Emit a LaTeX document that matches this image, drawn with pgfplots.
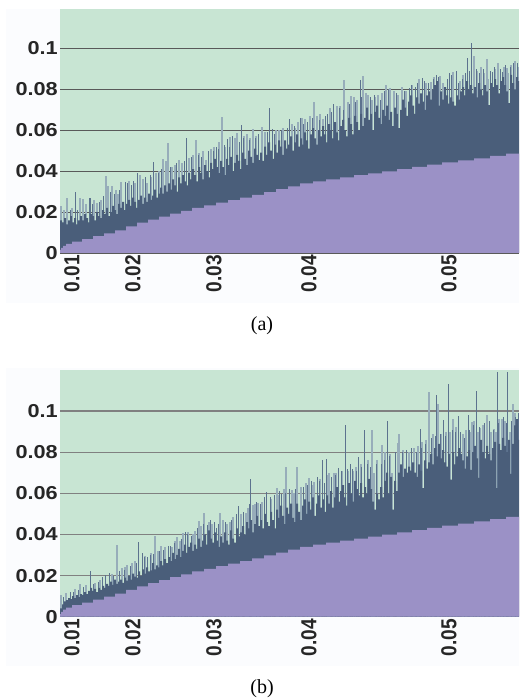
\documentclass[border=0pt]{standalone}
\usepackage{pgfplots}
\pgfplotsset{compat=1.18}
\usepackage{fontspec}
\setmainfont{Liberation Sans}
\newfontfamily\capfont{Liberation Serif}
\newfontfamily\ylabfont[FakeStretch=1.16]{Liberation Sans Bold}
\newfontfamily\xlabfont[FakeStretch=0.88]{Liberation Sans Bold}
\definecolor{bggreen}{HTML}{C8E5D3}
\definecolor{bodyc}{HTML}{4A5E7A}
\definecolor{purp}{HTML}{9B91C6}
\definecolor{palec}{HTML}{97ADBA}
\definecolor{darkc}{HTML}{5C728E}
\definecolor{pagebg}{HTML}{FBFCFE}
\definecolor{txt}{HTML}{262626}
\pgfplotsset{
  panel/.style={
    anchor=origin, x=1pt, scale only axis, width=459pt, xmin=60, xmax=519, ymin=0,
    axis line style={draw=none}, tick style={draw=none},
    axis background/.style={fill=bggreen},
    ymajorgrids, xmajorgrids=false,
    xtick={70,131,212,307,447}, xticklabels={0.01,0.02,0.03,0.04,0.05},
    ytick={0,0.02,0.04,0.06,0.08,0.1}, yticklabels={0,0.02,0.04,0.06,0.08,0.1},
    xticklabel style={rotate=90, anchor=east, font=\xlabfont\fontsize{21.7}{22}\selectfont, text=txt, yshift=-2pt, inner sep=2pt},
    yticklabel style={anchor=east, font=\ylabfont\fontsize{18.7}{22}\selectfont, text=txt, inner sep=2pt},
    scaled y ticks=false,
    clip=true,
  },
  pale/.style={ycomb, no markers, draw=palec, line width=1.6pt},
  dark/.style={ycomb, no markers, draw=darkc, line width=1pt},
  body/.style={const plot, no markers, draw=none, fill=bodyc},
  purple/.style={const plot, no markers, draw=none, fill=purp},
}
\pgfplotstableread{
x y
60 .0015
61 .0025
63 .0035
66 .0045
72 .0055
82 .0068
93 .0082
104 .0096
115 .0111
126 .0130
137 .0148
148 .0163
159 .0178
170 .0192
181 .0206
192 .0220
204 .0233
216 .0246
228 .0258
240 .0270
252 .0284
264 .0298
276 .0312
288 .0326
300 .0340
313 .0350
326 .0360
340 .0370
354 .0380
368 .0389
382 .0399
397 .0410
412 .0421
427 .0432
442 .0443
458 .0453
474 .0463
490 .0474
506 .0485
520 .0489
}\stepsA
\pgfplotstableread{
x y
60 .0012
61 .0024
63 .0034
66 .0044
72 .0056
82 .0069
93 .0083
104 .0097
115 .0112
126 .0130
137 .0148
148 .0163
159 .0178
170 .0192
181 .0206
192 .0220
204 .0233
216 .0246
228 .0258
240 .0270
252 .0284
264 .0298
276 .0312
288 .0326
300 .0340
313 .0350
326 .0360
340 .0370
354 .0380
368 .0389
382 .0399
397 .0410
412 .0421
427 .0432
442 .0443
458 .0453
474 .0463
490 .0474
506 .0485
520 .0489
}\stepsB
\begin{document}
\begin{tikzpicture}[x=1pt,y=1pt]
\useasboundingbox (0,0) rectangle (519,700);
\fill[white] (0,0) rectangle (519,700);
\fill[pagebg] (6,397) rectangle (519,691);
\fill[pagebg] (6,34) rectangle (519,332);
\begin{axis}[panel, at={(60pt,447pt)}, height=243.5pt, ymax=0.119,
  grid style={draw=black!65, line width=0.9pt}]
\addplot[pale] coordinates {(61,.023)(67,.0267)(80,.0267)(83,.0265)(97,.0245)(106,.0378)(108,.0327)(112,.0327)(121,.0348)(129,.0352)(140,.0383)(163,.0457)(166,.045)(168,.0537)(172,.042)(179,.0453)(189,.0462)(196,.0553)(206,.0453)(211,.051)
(222,.0663)(230,.0565)(237,.0585)(247,.058)(253,.0604)(262,.0617)(276,.060)(295,.061)(305,.0653)(310,.067)(314,.0736)(323,.0653)(337,.0718)(344,.0845)(351,.0768)(354,.076)(357,.0747)(363,.0865)(368,.0772)
(372,.075)(378,.077)(386,.082)(390,.0805)(398,.077)(419,.0848)(431,.0837)(440,.0866)(453,.0886)(474,.0962)(481,.0907)(487,.0946)(488,.085)(498,.093)(507,.0902)(508,.088)(515,.094)
(64,.021)(72,.022)(86,.024)(94,.026)(101,.026)(116,.031)(118,.029)(135,.034)(143,.036)(147,.034)(151,.037)(156,.039)(159,.040)(175,.043)(182,.044)(193,.048)(199,.049)(203,.050)(214,.052)(219,.054)(225,.052)(235,.056)(244,.057)(250,.056)(256,.057)(265,.059)(279,.060)(283,.061)(292,.063)(298,.064)(302,.066)(317,.067)(320,.068)(330,.071)(340,.072)(348,.074)(366,.078)(375,.076)(382,.078)(394,.079)(402,.081)(406,.079)(412,.082)(426,.083)(434,.086)(443,.083)(460,.084)(463,.087)(477,.089)(484,.088)(495,.090)(504,.091)(511,.092)(518,.091)};
\addplot[dark] coordinates {(75,.0296)(89,.0267)(90,.027)(125,.0348)(133,.0352)(137,.039)(153,.0446)(186,.056)(208,.050)(216,.052)(227,.0556)(232,.057)(241,.0625)(269,.071)(272,.0605)(289,.0653)(300,.0658)(327,.068)(333,.0726)(360,.0845)(409,.0804)(415,.0813)(422,.0853)(436,.087)(449,.0882)(456,.089)(467,.0955)(471,.1024)(492,.0886)(502,.0883)
(70,.021)(77,.021)(92,.024)(99,.025)(103,.028)(110,.030)(114,.029)(119,.031)(127,.034)(131,.033)(145,.037)(150,.038)(158,.039)(161,.041)(170,.042)(176,.044)(184,.045)(191,.047)(198,.048)(201,.047)(213,.050)(218,.051)(224,.053)(229,.052)(239,.054)(243,.056)(249,.055)(255,.056)(258,.058)(267,.059)(274,.058)(281,.060)(287,.061)(294,.062)(303,.063)(307,.064)(312,.066)(319,.065)(325,.067)(331,.069)(339,.071)(343,.070)(349,.073)(355,.074)(361,.076)(370,.076)(374,.077)(380,.075)(384,.079)(388,.080)(396,.078)(404,.079)(411,.082)(417,.083)(424,.084)(428,.083)(433,.085)(438,.086)(447,.085)(451,.087)(458,.083)(462,.085)(465,.088)(469,.089)(476,.090)(479,.088)(483,.090)(490,.089)(494,.091)(500,.090)(505,.092)(510,.091)(513,.093)(517,.093)};
\addplot[body] coordinates {
(60,.016)(62,.015)(64,.017)(66,.014)(68,.016)(70,.018)(72,.015)(74,.017)(76,.014)(78,.016)
(80,.018)(82,.016)(84,.019)(86,.017)(88,.015)(90,.019)(92,.018)(94,.016)(96,.020)(98,.018)
(100,.017)(102,.021)(104,.019)(106,.022)(108,.018)(110,.020)(112,.023)(114,.021)(116,.019)(118,.024)
(120,.022)(122,.025)(124,.021)(126,.024)(128,.026)(130,.023)(132,.027)(134,.025)(136,.022)(138,.026)
(140,.028)(142,.024)(144,.027)(146,.025)(148,.029)(150,.026)(152,.028)(154,.031)(156,.027)(158,.029)
(160,.032)(162,.029)(164,.033)(166,.030)(168,.034)(170,.031)(172,.036)(174,.033)(176,.030)(178,.037)
(180,.034)(182,.038)(184,.035)(186,.033)(188,.039)(190,.036)(192,.041)(194,.038)(196,.035)(198,.042)
(200,.039)(202,.036)(204,.043)(206,.040)(208,.037)(210,.044)(212,.041)(214,.046)(216,.042)(218,.039)
(220,.045)(222,.042)(224,.038)(226,.046)(228,.043)(230,.047)(232,.040)(234,.044)(236,.048)(238,.045)
(240,.041)(242,.049)(244,.046)(246,.043)(248,.050)(250,.047)(252,.044)(254,.051)(256,.048)(258,.0454)
(260,.049)(262,.045)(264,.052)(266,.048)(268,.054)(270,.050)(272,.046)(274,.053)(276,.049)(278,.055)
(280,.052)(282,.048)(284,.055)(286,.051)(288,.053)(290,.057)(292,.050)(294,.054)(296,.058)(298,.052)
(300,.056)(302,.053)(304,.059)(306,.055)(308,.051)(310,.058)(312,.061)(314,.056)(316,.053)(318,.060)
(320,.057)(322,.062)(324,.058)(326,.054)(328,.063)(330,.060)(332,.056)(334,.064)(336,.059)(338,.055)
(340,.062)(342,.065)(344,.060)(346,.057)(348,.066)(350,.063)(352,.058)(354,.067)(356,.064)(358,.060)
(360,.068)(362,.062)(364,.066)(366,.071)(368,.065)(370,.068)(372,.060)(374,.069)(376,.072)(378,.066)
(380,.063)(382,.070)(384,.067)(386,.072)(388,.065)(390,.069)(392,.062)(394,.071)(396,.068)(398,.061)
(400,.070)(402,.075)(404,.071)(406,.067)(408,.074)(410,.077)(412,.072)(414,.068)(416,.076)(418,.073)
(420,.078)(422,.074)(424,.070)(426,.077)(428,.079)(430,.075)(432,.080)(434,.082)(436,.084)(438,.072)
(440,.079)(442,.075)(444,.081)(446,.077)(448,.073)(450,.076)(452,.074)(454,.072)(456,.077)(458,.075)
(460,.079)(462,.081)(464,.077)(466,.084)(468,.080)(470,.082)(472,.078)(474,.081)(476,.076)(478,.083)
(480,.080)(482,.077)(484,.082)(486,.079)(488,.0723)(490,.083)(492,.081)(494,.085)(496,.082)(498,.078)
(500,.084)(502,.086)(504,.082)(506,.079)(508,.0732)(510,.087)(512,.083)(514,.080)(516,.086)(518,.084)(520,.084)
} \closedcycle;
\addplot[purple] table[x=x,y=y] {\stepsA} \closedcycle;
\end{axis}
\begin{axis}[panel, at={(60pt,83.3pt)}, height=246.4pt, ymax=0.1198,
  grid style={draw=black!50, line width=1.1pt}]
\addplot[pale] coordinates {(61,.0106)(80,.0158)(117,.0348)(122,.0235)(127,.025)(132,.0263)(155,.0394)(161,.0345)(172,.034)(177,.0389)(183,.0408)(195,.0417)(199,.0465)(204,.0506)(212,.0453)
(220,.0503)(227,.0453)(233,.0486)(246,.0503)(253,.0543)(258,.0551)(277,.0624)(286,.0729)(292,.0616)(297,.0729)(309,.0673)(314,.0656)(329,.07)(334,.0697)(353,.0709)
(372,.0909)(374,.07)(382,.0836)(392,.07)(398,.0845)(399,.0888)(414,.082)(422,.085)(429,.1092)(438,.1036)(450,.09)(453,.0961)(470,.09)(472,.0945)(478,.09)(480,.0917)(487,.0982)(494,.0912)(496,.09)(499,.0959)(510,.09)(513,.1032)(517,.095)
(66,.0115)(75,.0135)(86,.0155)(95,.0165)(100,.018)(112,.021)(125,.024)(135,.027)(145,.0295)(151,.031)(158,.032)(165,.034)(175,.037)(180,.037)(188,.041)(193,.040)(201,.044)(209,.046)(223,.047)(230,.046)(241,.050)(248,.053)(255,.055)(262,.056)(271,.057)(279,.059)(284,.062)(294,.060)(301,.063)(306,.065)(312,.064)(320,.067)(328,.069)(336,.070)(342,.071)(348,.071)(356,.073)(361,.074)(368,.076)(377,.076)(385,.080)(390,.079)(403,.081)(409,.080)(418,.083)(426,.086)(433,.089)(441,.089)(446,.090)(456,.092)(463,.089)(466,.091)(474,.095)(483,.093)(491,.090)(502,.096)(505,.095)(515,.099)};
\addplot[dark] coordinates {(70,.012)(90,.0224)(105,.0203)(109,.0214)(138,.0365)(142,.031)(147,.0288)(168,.0345)(185,.0413)(207,.0445)(216,.043)(238,.0539)(250,.0668)(266,.0605)(281,.0597)(317,.0681)(322,.0762)(326,.0765)(338,.0721)(345,.0932)(350,.0741)(358,.0778)(364,.0908)(387,.095)(420,.0912)(436,.1076)(443,.0955)(448,.1131)(458,.0974)(468,.0982)(476,.1098)(497,.119)(507,.119)
(63,.0095)(73,.012)(78,.013)(83,.0145)(93,.016)(98,.017)(102,.0195)(113,.020)(119,.022)(124,.0225)(130,.0245)(136,.026)(144,.029)(150,.030)(153,.0305)(159,.032)(163,.0325)(170,.0345)(174,.036)(181,.038)(187,.040)(191,.039)(197,.043)(203,.045)(210,.047)(214,.046)(218,.045)(225,.046)(231,.047)(236,.050)(243,.051)(249,.055)(256,.056)(260,.055)(264,.058)(270,.058)(274,.059)(279,.061)(285,.060)(289,.062)(295,.062)(303,.063)(307,.064)(311,.066)(319,.066)(324,.065)(331,.068)(335,.069)(341,.071)(347,.072)(352,.072)(356,.071)(361,.073)(367,.074)(370,.073)(376,.074)(381,.074)(384,.076)(389,.078)(395,.080)(402,.080)(406,.081)(411,.082)(416,.080)(421,.082)(425,.084)(431,.087)(435,.088)(440,.089)(445,.088)(452,.091)(455,.090)(460,.090)(464,.087)(469,.091)(473,.093)(479,.092)(484,.094)(489,.095)(493,.091)(498,.094)(503,.097)(506,.094)(511,.095)(515,.097)(518,.099)};
\addplot[body] coordinates {
(60,.004)(62,.006)(64,.0075)(66,.008)(68,.009)(70,.0085)(72,.010)(74,.009)(76,.0105)(78,.0095)
(80,.011)(82,.0105)(84,.012)(86,.011)(88,.0125)(90,.014)(92,.0125)(94,.0135)(96,.012)(98,.014)
(100,.013)(102,.015)(104,.014)(106,.016)(108,.015)(110,.017)(112,.0155)(114,.018)(116,.016)(118,.017)
(120,.018)(122,.0165)(124,.019)(126,.0175)(128,.020)(130,.018)(132,.021)(134,.0195)(136,.019)(138,.022)
(140,.020)(142,.023)(144,.021)(146,.024)(148,.022)(150,.0225)(152,.026)(154,.023)(156,.025)(158,.024)
(160,.027)(162,.025)(164,.028)(166,.026)(168,.029)(170,.027)(172,.031)(174,.028)(176,.030)(178,.033)
(180,.029)(182,.032)(184,.035)(186,.031)(188,.034)(190,.036)(192,.032)(194,.035)(196,.033)(198,.038)
(200,.034)(202,.037)(204,.040)(206,.035)(208,.042)(210,.038)(212,.036)(214,.041)(216,.037)(218,.034)
(220,.039)(222,.036)(224,.041)(226,.037)(228,.035)(230,.042)(232,.038)(234,.036)(236,.043)(238,.039)
(240,.041)(242,.044)(244,.040)(246,.046)(248,.043)(250,.047)(252,.041)(254,.045)(256,.049)(258,.044)
(260,.047)(262,.043)(264,.050)(266,.046)(268,.044)(270,.051)(272,.047)(274,.043)(276,.052)(278,.048)
(280,.054)(282,.049)(284,.045)(286,.053)(288,.050)(290,.055)(292,.048)(294,.046)(296,.055)(298,.051)
(300,.047)(302,.054)(304,.057)(306,.050)(308,.056)(310,.052)(312,.058)(314,.049)(316,.055)(318,.059)
(320,.053)(322,.057)(324,.051)(326,.059)(328,.055)(330,.061)(332,.053)(334,.058)(336,.063)(338,.056)
(340,.061)(342,.064)(344,.058)(346,.054)(348,.065)(350,.060)(352,.056)(354,.066)(356,.062)(358,.059)
(360,.065)(362,.058)(364,.063)(366,.060)(368,.067)(370,.062)(372,.056)(374,.052)(376,.060)(378,.057)
(380,.063)(382,.058)(384,.066)(386,.070)(388,.060)(390,.068)(392,.052)(394,.066)(396,.061)(398,.070)
(400,.074)(402,.068)(404,.072)(406,.070)(408,.073)(410,.071)(412,.075)(414,.070)(416,.068)(418,.074)
(420,.071)(422,.0625)(424,.076)(426,.072)(428,.075)(430,.079)(432,.074)(434,.082)(436,.078)(438,.084)
(440,.077)(442,.081)(444,.075)(446,.073)(448,.079)(450,.0666)(452,.080)(454,.074)(456,.078)(458,.082)
(460,.079)(462,.076)(464,.072)(466,.078)(468,.081)(470,.0714)(472,.080)(474,.083)(476,.077)(478,.0675)
(480,.086)(482,.080)(484,.077)(486,.083)(488,.079)(490,.076)(492,.082)(494,.085)(496,.0625)(498,.084)
(500,.081)(502,.087)(504,.083)(506,.080)(508,.086)(510,.0694)(512,.084)(514,.093)(516,.096)(518,.086)(520,.086)
} \closedcycle;
\addplot[purple] table[x=x,y=y] {\stepsB} \closedcycle;
\end{axis}
\node[font=\capfont\fontsize{20}{22}\selectfont, text=black] at (262,374) {(a)};
\node[font=\capfont\fontsize{20}{22}\selectfont, text=black] at (262,11) {(b)};
\end{tikzpicture}
\end{document}
